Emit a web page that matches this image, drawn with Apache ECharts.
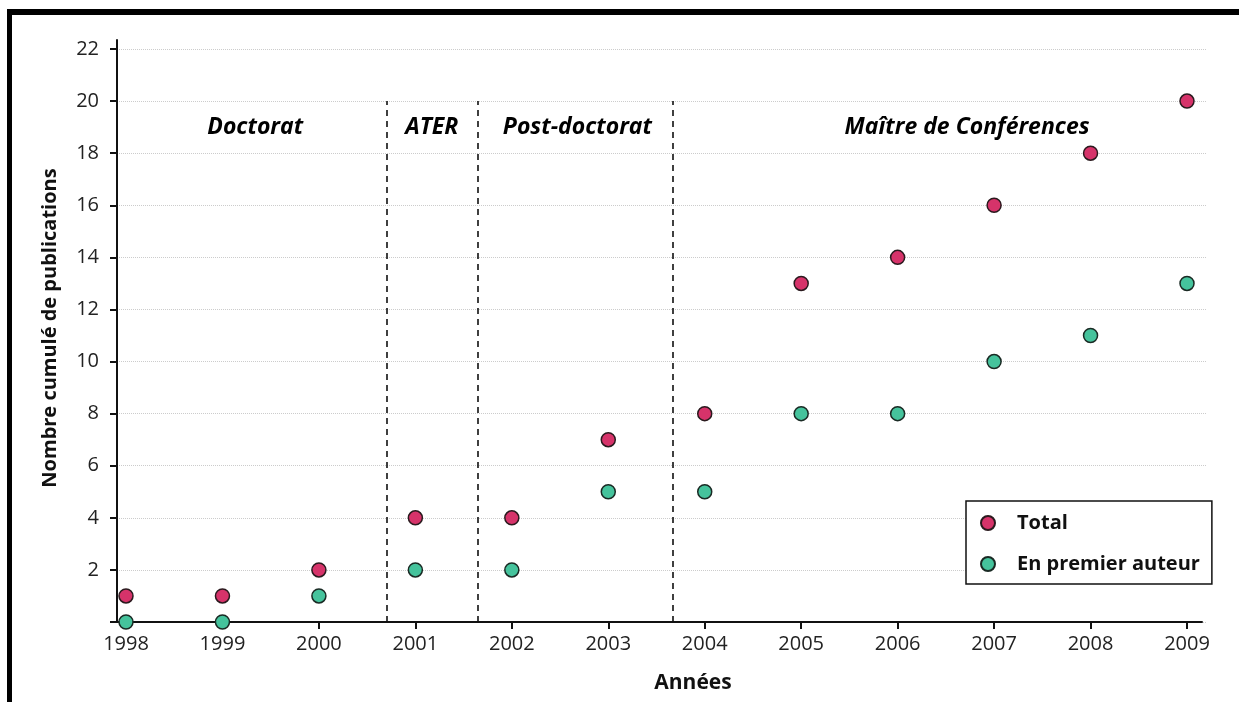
<!DOCTYPE html>
<html>
<head>
<meta charset="utf-8">
<script src="https://cdn.jsdelivr.net/npm/echarts@6/dist/echarts.min.js"></script>
<style>
html,body{margin:0;padding:0;background:#fff;}
#frame{position:absolute;left:7px;top:9px;width:1232px;height:693px;border-top:6px solid #000;border-left:5px solid #000;box-sizing:border-box;}
#chart{position:absolute;left:0;top:0;width:1239px;height:702px;}
</style>
</head>
<body>
<div id="chart"></div>
<div id="frame"></div>
<script>
const years = [1998,1999,2000,2001,2002,2003,2004,2005,2006,2007,2008,2009];
const totalValues = [1,1,2,4,4,7,8,13,14,16,18,20];
const firstAuthorValues = [0,0,1,2,2,5,5,8,8,10,11,13];
const periodNames = ['Doctorat','ATER','Post-doctorat','Maître de Conférences'];
const periodCenters = [1999.34,2001.17,2002.68,2006.72];
const periodLabelY = 19;
const periodBoundaries = [2000.7,2001.65,2003.67];
const boundaryTop = 20;
const yTicks = [2,4,6,8,10,12,14,16,18,20,22];

const FONT = '"Open Sans", "Noto Sans", sans-serif';
const chart = echarts.init(document.getElementById('chart'));

const pts = (vals) => years.map((y,i)=>[y, vals[i]]);

chart.setOption({
  backgroundColor: 'transparent',
  animation: false,
  textStyle: {fontFamily: FONT},
  grid: [
    {left:117, right:37, top:40, bottom:80},   // axis lines
    {left:126, right:52, top:49, bottom:80},   // data
    {left:117, right:32, top:49, bottom:80}    // y ticks + grid lines
  ],
  xAxis: [
    {gridIndex:0, type:'value', min:0, max:1, axisLine:{show:true, lineStyle:{color:'#111', width:2}},
     axisTick:{show:false}, axisLabel:{show:false}, splitLine:{show:false}},
    {gridIndex:1, type:'value', min:1998, max:2009, interval:1,
     axisLine:{show:false}, axisTick:{show:true, length:7, lineStyle:{color:'#111', width:2}},
     axisLabel:{show:true, color:'#222', fontSize:20, margin:12, formatter: v => String(v)},
     splitLine:{show:false}},
    {gridIndex:2, type:'value', min:0, max:1, show:false}
  ],
  yAxis: [
    {gridIndex:0, type:'value', min:0, max:1, axisLine:{show:true, lineStyle:{color:'#111', width:2}},
     axisTick:{show:false}, axisLabel:{show:false}, splitLine:{show:false}},
    {gridIndex:1, type:'value', min:0, max:22, show:false},
    {gridIndex:2, type:'value', min:0, max:22, interval:2,
     axisLine:{show:false},
     axisTick:{show:true, length:7, lineStyle:{color:'#111', width:2}},
     axisLabel:{show:true, color:'#222', fontSize:20, margin:18,
       formatter: v => (yTicks.indexOf(v) >= 0 ? String(v) : '')},
     splitLine:{show:true, lineStyle:{color:'#cccccc', width:1, type:'dotted'}}}
  ],
  legend: {
    orient:'vertical', left:966, top:501,
    data:['Total','En premier auteur'],
    backgroundColor:'#fff', borderColor:'#111', borderWidth:1.5, borderRadius:0,
    padding:[11,12,9,14], itemGap:19, itemWidth:30, itemHeight:14, icon:'circle',
    textStyle:{fontFamily:FONT, fontWeight:'bold', fontSize:20, color:'#111', lineHeight:22, padding:[0,0,0,9]}
  },
  series: [
    {
      name:'periods', type:'scatter', xAxisIndex:1, yAxisIndex:1, symbolSize:0, silent:true,
      itemStyle:{opacity:1},
      data: periodNames.map((n,i)=>({value:[periodCenters[i], periodLabelY], name:n})),
      label:{show:true, position:'inside', formatter: p => p.name, fontFamily:FONT, fontSize:23,
             fontWeight:'bold', fontStyle:'italic', color:'#000', opacity:1, textBorderWidth:0},
      markLine:{
        silent:true, symbol:['none','none'], label:{show:false},
        lineStyle:{color:'#111', type:[6,5], width:1.6, opacity:1},
        data: periodBoundaries.map(b => [{coord:[b,0]},{coord:[b,boundaryTop]}])
      },
      z:3
    },
    {
      name:'Total', type:'scatter', xAxisIndex:1, yAxisIndex:1, symbol:'circle', symbolSize:14,
      data: pts(totalValues),
      itemStyle:{color:'#d6336a', borderColor:'#2a1a1e', borderWidth:1.5, opacity:1}, z:5
    },
    {
      name:'En premier auteur', type:'scatter', xAxisIndex:1, yAxisIndex:1, symbol:'circle', symbolSize:14,
      data: pts(firstAuthorValues),
      itemStyle:{color:'#45c39c', borderColor:'#1a2a24', borderWidth:1.5, opacity:1}, z:5
    }
  ],
  graphic: [
    {type:'text', x:50, y:328, rotation:Math.PI/2,
     style:{text:'Nombre cumulé de publications', fontFamily:FONT, fontWeight:'bold', fontSize:20,
            fill:'#111', align:'center', verticalAlign:'middle'}},
    {type:'text', x:693, y:683,
     style:{text:'Années', fontFamily:FONT, fontWeight:'bold', fontSize:21,
            fill:'#111', align:'center', verticalAlign:'middle'}}
  ]
});
</script>
</body>
</html>
